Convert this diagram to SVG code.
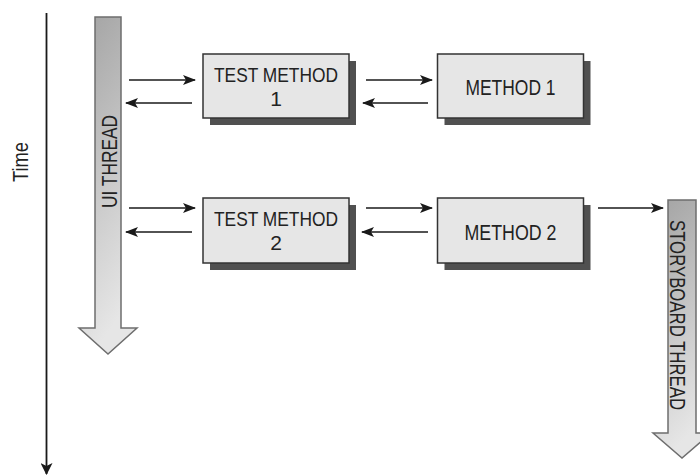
<svg xmlns="http://www.w3.org/2000/svg" width="700" height="475" viewBox="0 0 700 475">
<style>
.lbl{font-family:"Liberation Sans",Arial,sans-serif;font-size:22px;fill:#222;}
.two{font-size:21px;}
.box{fill:#e6e6e6;stroke:#333;stroke-width:1.5;}
.shd{fill:#505050;}
.con{stroke:#1a1a1a;stroke-width:1.7;fill:none;marker-end:url(#ah);}
.thr{stroke:#6e6e6e;stroke-width:1.5;}
</style>
<defs>
<marker id="ah" viewBox="0 0 13 10" refX="12" refY="5" markerWidth="13" markerHeight="10" markerUnits="userSpaceOnUse" orient="auto">
<path d="M0,0 L13,5 L0,10 L3,5 Z" fill="#1a1a1a"/>
</marker>
<marker id="ahT" viewBox="0 0 12 12" refX="11" refY="6" markerWidth="12" markerHeight="12" markerUnits="userSpaceOnUse" orient="auto">
<path d="M0,0 L12,6 L0,12 L3,6 Z" fill="#1a1a1a"/>
</marker>
<linearGradient id="g1" x1="0" y1="0" x2="0.25" y2="1">
<stop offset="0" stop-color="#a2a2a2"/>
<stop offset="1" stop-color="#e6e6e6"/>
</linearGradient>
</defs>

<g id="time">
<line x1="46.5" y1="13" x2="46.5" y2="474" stroke="#1a1a1a" stroke-width="1.8" marker-end="url(#ahT)"/>
<text class="lbl" transform="translate(28,162) rotate(-90)" text-anchor="middle" textLength="40" lengthAdjust="spacingAndGlyphs">Time</text>
</g>

<g id="ui-thread">
<path class="thr" fill="url(#g1)" d="M95,17 H121 V328 H137 L108,354 L79,328 H95 Z"/>
<text class="lbl" transform="translate(117,161.5) rotate(-90)" text-anchor="middle" textLength="93" lengthAdjust="spacingAndGlyphs">UI THREAD</text>
</g>

<g id="storyboard-thread">
<path class="thr" fill="url(#g1)" d="M668,200 H696 V433 H711 L682,458 L653,433 H668 Z"/>
<text class="lbl" transform="translate(670,315) rotate(90)" text-anchor="middle" textLength="190" lengthAdjust="spacingAndGlyphs">STORYBOARD THREAD</text>
</g>

<g id="test-method-1">
<rect class="shd" x="210" y="61" width="146" height="64"/>
<rect class="box" x="203" y="54" width="146" height="64"/>
<text class="lbl two" text-anchor="middle"><tspan x="276" y="81.5" textLength="124" lengthAdjust="spacingAndGlyphs">TEST METHOD</tspan><tspan x="276" y="105.5">1</tspan></text>
</g>

<g id="method-1">
<rect class="shd" x="444.5" y="61" width="146" height="64"/>
<rect class="box" x="437.5" y="54" width="146" height="64"/>
<text class="lbl" x="510.5" y="95" text-anchor="middle" textLength="90" lengthAdjust="spacingAndGlyphs">METHOD 1</text>
</g>

<g id="test-method-2">
<rect class="shd" x="210" y="205" width="146" height="65"/>
<rect class="box" x="203" y="198" width="146" height="65"/>
<text class="lbl two" text-anchor="middle"><tspan x="276" y="226" textLength="124" lengthAdjust="spacingAndGlyphs">TEST METHOD</tspan><tspan x="276" y="250">2</tspan></text>
</g>

<g id="method-2">
<rect class="shd" x="444.5" y="205" width="146" height="65"/>
<rect class="box" x="437.5" y="198" width="146" height="65"/>
<text class="lbl" x="510.5" y="240" text-anchor="middle" textLength="92" lengthAdjust="spacingAndGlyphs">METHOD 2</text>
</g>

<g id="connectors">
<line class="con" x1="129" y1="80" x2="195" y2="80"/>
<line class="con" x1="192" y1="103" x2="126" y2="103"/>
<line class="con" x1="366" y1="80" x2="432" y2="80"/>
<line class="con" x1="428" y1="103" x2="363" y2="103"/>
<line class="con" x1="129" y1="208" x2="195" y2="208"/>
<line class="con" x1="192" y1="232" x2="126" y2="232"/>
<line class="con" x1="366" y1="208" x2="432" y2="208"/>
<line class="con" x1="428" y1="232" x2="362" y2="232"/>
<line class="con" x1="598" y1="208" x2="663" y2="208"/>
</g>
</svg>
